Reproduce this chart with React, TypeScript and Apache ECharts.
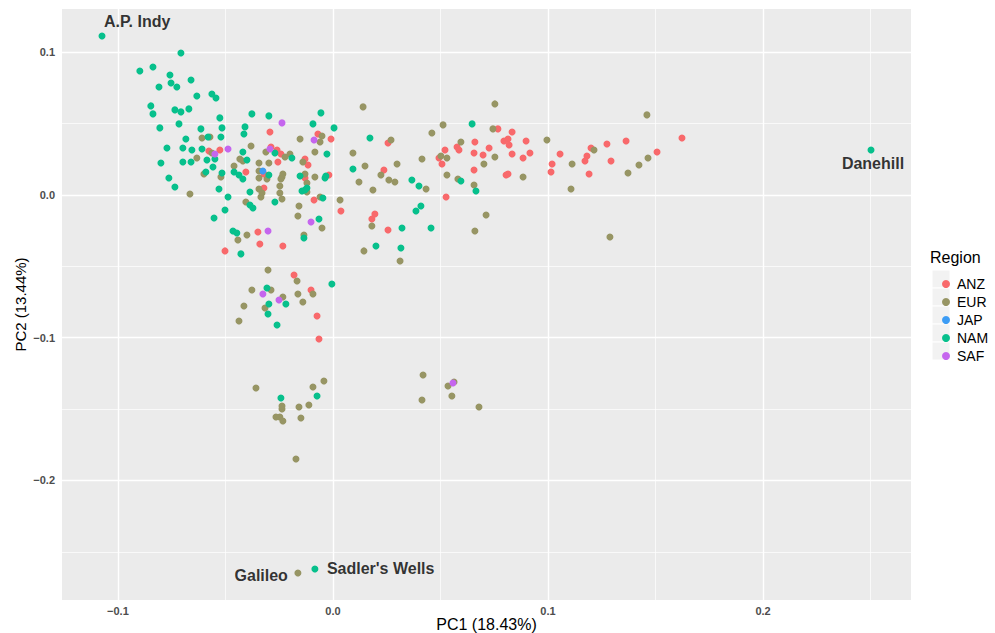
import React, { useEffect, useRef } from "react";
import * as echarts from "echarts";

// ---------- data (PC1, PC2) ----------
const regions = ["ANZ", "EUR", "JAP", "NAM", "SAF"];

const ANZ: [number, number][] = [
  [-0.0577, 0.0308], [-0.0526, 0.0315], [-0.0405, 0.0161], [-0.0293, 0.0441], [-0.007, 0.0427],
  [-0.0009, 0.0392], [-0.0288, 0.0336], [-0.026, 0.0315], [-0.0242, 0.0287], [-0.0256, 0.0231],
  [-0.013, 0.0252], [-0.0116, 0.021], [-0.0321, 0.0147], [-0.013, 0.0119], [-0.0019, 0.014],
  [-0.0321, 0.0049], [-0.0088, -0.0035], [0.0037, -0.0112], [-0.0349, -0.0259], [-0.034, -0.0343],
  [-0.0233, -0.0357], [-0.0502, -0.0392], [0.0256, 0.0364], [0.0767, 0.0463], [0.0833, 0.0441],
  [0.0898, 0.0378], [0.0795, 0.0378], [0.0814, 0.0392], [0.0819, 0.035], [0.066, 0.0371],
  [0.0577, 0.0336], [0.0586, 0.0315], [0.0521, 0.0315], [0.0726, 0.0329], [0.0656, 0.0294],
  [0.0698, 0.028], [0.0833, 0.0287], [0.0916, 0.0294], [0.0884, 0.0259], [0.1056, 0.0287],
  [0.1019, 0.0217], [0.1014, 0.0161], [0.0493, 0.0259], [0.0507, 0.0217], [0.0237, 0.0175],
  [0.0656, 0.0175], [0.0805, 0.014], [0.0814, 0.0147], [0.0526, -0.0014], [0.0195, -0.0133],
  [0.0181, -0.0168], [0.0256, -0.0245], [0.1623, 0.0399], [0.1363, 0.0378], [0.1274, 0.0357],
  [0.12, 0.0329], [0.1181, 0.0273], [0.1172, 0.0238], [0.1293, 0.0238], [0.1507, 0.0301],
  [0.1191, 0.0147], [-0.0181, -0.0561], [-0.0102, -0.0666], [-0.0074, -0.0848], [-0.0065, -0.1009],
];

const EUR: [number, number][] = [
  [-0.0609, 0.0399], [-0.0572, 0.0406], [-0.0381, 0.0343], [-0.0563, 0.0294], [-0.0633, 0.0259],
  [-0.0433, 0.0252], [-0.0344, 0.0224], [-0.046, 0.0203], [-0.06, 0.0147], [-0.0521, 0.0126],
  [-0.0344, 0.0168], [-0.0344, 0.0042], [-0.0665, 0.0007], [-0.0405, -0.0049], [0.014, 0.0617],
  [-0.0051, 0.0413], [-0.0153, 0.0392], [-0.006, 0.0371], [-0.0312, 0.0301], [-0.02, 0.0287],
  [-0.0084, 0.0301], [0.0093, 0.0294], [0.0149, 0.0203], [0.0121, 0.0091], [-0.0419, 0.0238],
  [-0.0298, 0.0224], [-0.0223, 0.0266], [-0.014, 0.0231], [-0.0344, 0.0119], [-0.0307, 0.0112],
  [-0.0233, 0.0147], [-0.0237, 0.0126], [-0.0242, 0.0112], [-0.013, 0.0147], [-0.0084, 0.0126],
  [-0.0121, 0.0084], [-0.0247, 0.0063], [-0.0247, 0.0014], [-0.033, 0.0014], [-0.0335, -0.0014],
  [-0.0237, -0.0028], [-0.0121, 0.0021], [-0.0158, -0.0077], [-0.0163, -0.0147], [-0.006, -0.0014],
  [0.0033, -0.0035], [-0.0051, -0.0231], [-0.04, -0.028], [-0.0442, -0.0315], [-0.0135, -0.028],
  [0.0144, -0.0392], [-0.0302, -0.0526], [0.0753, 0.0638], [0.0512, 0.0491], [0.046, 0.0434],
  [0.027, 0.0385], [0.0744, 0.0463], [0.0995, 0.0385], [0.0595, 0.0371], [0.0753, 0.0266],
  [0.0502, 0.0273], [0.053, 0.0259], [0.0414, 0.0252], [0.0298, 0.0217], [0.0702, 0.0217],
  [0.0223, 0.014], [0.053, 0.014], [0.0884, 0.0126], [0.026, 0.0105], [0.0288, 0.0091],
  [0.0581, 0.0112], [0.0656, 0.007], [0.0433, 0.0042], [0.0186, 0.0035], [0.0712, -0.014],
  [0.0181, -0.0217], [0.066, -0.0252], [0.0312, -0.0463], [0.146, 0.0561], [0.1214, 0.0315],
  [0.1465, 0.0259], [0.1423, 0.021], [0.1112, 0.0217], [0.1372, 0.0154], [0.1107, 0.0042],
  [0.1288, -0.0294], [-0.0167, -0.0603], [-0.0377, -0.0666], [-0.0288, -0.0666], [-0.0093, -0.0694],
  [-0.0233, -0.0715], [-0.0163, -0.0694], [-0.014, -0.075], [-0.0414, -0.0778], [-0.0316, -0.0792],
  [-0.0437, -0.0883], [-0.0042, -0.1303], [-0.0093, -0.1345], [-0.0358, -0.1352], [-0.0112, -0.1472],
  [-0.0158, -0.1486], [-0.0237, -0.1479], [-0.0237, -0.15], [-0.0265, -0.1556], [-0.0247, -0.1556],
  [-0.0233, -0.1584], [-0.0149, -0.1563], [-0.0172, -0.185], [0.0419, -0.1261], [0.0414, -0.1437],
  [0.0563, -0.131], [0.0535, -0.1338], [0.0553, -0.1409], [0.0679, -0.1486], [-0.0163, -0.2649],
];

const JAP: [number, number][] = [
  [-0.0326, 0.0168],
];

const NAM: [number, number][] = [
  [-0.1074, 0.1114], [-0.0707, 0.0995], [-0.0898, 0.0869], [-0.0837, 0.0897], [-0.0758, 0.0841],
  [-0.066, 0.0806], [-0.0753, 0.0785], [-0.0809, 0.0757], [-0.0726, 0.0757], [-0.0633, 0.0694],
  [-0.0563, 0.0708], [-0.0544, 0.068], [-0.0847, 0.0624], [-0.0837, 0.0568], [-0.0735, 0.0596],
  [-0.0707, 0.0582], [-0.067, 0.0603], [-0.0526, 0.054], [-0.0377, 0.0568], [-0.0805, 0.047],
  [-0.0716, 0.0498], [-0.0614, 0.0463], [-0.0516, 0.047], [-0.0409, 0.0477], [-0.0414, 0.0427],
  [-0.0684, 0.0392], [-0.0581, 0.0406], [-0.0521, 0.0406], [-0.0772, 0.0329], [-0.0698, 0.0329],
  [-0.0656, 0.0315], [-0.0609, 0.0322], [-0.0419, 0.0301], [-0.0586, 0.0245], [-0.0549, 0.0252],
  [-0.04, 0.0245], [-0.08, 0.0224], [-0.0698, 0.0231], [-0.066, 0.0231], [-0.0558, 0.0196],
  [-0.0591, 0.0161], [-0.0516, 0.0154], [-0.046, 0.0161], [-0.0437, 0.014], [-0.0419, 0.0112],
  [-0.0763, 0.0119], [-0.0735, 0.0056], [-0.053, 0.0042], [-0.0386, 0.0021], [-0.0488, -0.0014],
  [-0.0386, -0.007], [-0.0502, -0.0105], [-0.0372, -0.0091], [-0.0298, 0.0554], [-0.0056, 0.0575],
  [-0.0093, 0.0498], [0.0005, 0.047], [0.0172, 0.0399], [-0.027, 0.0294], [-0.0191, 0.0259],
  [-0.0028, 0.0287], [0.0093, 0.0182], [-0.0298, 0.014], [-0.0153, 0.0133], [-0.0037, 0.0119],
  [-0.0033, 0.0133], [-0.027, -0.0049], [-0.0144, 0.0028], [-0.013, 0.0035], [-0.0121, 0.0049],
  [-0.0047, -0.0021], [-0.0553, -0.0161], [-0.0065, -0.0168], [-0.0465, -0.0252], [-0.0447, -0.0266],
  [-0.0135, -0.0301], [-0.0428, -0.0413], [0.0647, 0.0498], [0.0367, 0.0105], [0.0595, 0.0098],
  [0.04, 0.0063], [0.0665, 0.0028], [0.0409, -0.0077], [0.0386, -0.0112], [0.0321, -0.0231],
  [0.0456, -0.0231], [0.02, -0.0357], [0.0316, -0.0371], [-0.0005, -0.0624], [-0.0307, -0.0652],
  [-0.0298, -0.0764], [-0.0219, -0.0764], [-0.0302, -0.0834], [-0.026, -0.0911], [-0.0074, -0.1409],
  [-0.0242, -0.1423], [0.2502, 0.0315], [-0.0084, -0.2621],
];

const SAF: [number, number][] = [
  [-0.0488, 0.0322], [-0.0549, 0.0287], [-0.0237, 0.0505], [-0.0088, 0.0385], [-0.0293, 0.0322],
  [-0.0102, -0.0189], [-0.0302, -0.0252], [-0.0326, -0.0694], [-0.0251, -0.0736], [0.0558, -0.1317],
];

const regionData = [ANZ, EUR, JAP, NAM, SAF];

// labelled horses
const labelNames = ["A.P. Indy", "Danehill", "Galileo", "Sadler's Wells"];
const labelPC1 = [-0.1074, 0.2502, -0.0163, -0.0084];
const labelPC2 = [0.1114, 0.0315, -0.2649, -0.2621];

// axes
const xTicks = [-0.1, 0.0, 0.1, 0.2];
const yTicks = [-0.2, -0.1, 0.0, 0.1];
const xMinor = [-0.05, 0.05, 0.15, 0.25];
const yMinor = [-0.25, -0.15, -0.05, 0.05];
const xRange = [-0.126, 0.2688];
const yRange = [-0.2838, 0.1303];

// ---------- styles ----------
const colors = ["#F8696B", "#979564", "#3C9CF5", "#07C08C", "#C566EE"];
const labelStyle: { align: string; offset: [number, number] }[] = [
  { align: "left", offset: [2, -14] },
  { align: "center", offset: [2, 13] },
  { align: "right", offset: [-10, 2] },
  { align: "left", offset: [12, -1] },
];
const FONT = "'Liberation Sans', Arial, Helvetica, sans-serif";

const fmt = (v: number) =>
  Math.abs(v) < 1e-9 ? "0.0" : (v < 0 ? "\u2212" : "") + Math.abs(v).toFixed(1);

export default function App() {
  const ref = useRef<HTMLDivElement>(null);

  useEffect(() => {
    if (!ref.current) return;
    const chart = echarts.init(ref.current, null, { renderer: "svg" });

    const gridLines = [
      ...xTicks.map((v) => ({ xAxis: v, lineStyle: { width: 1.4 } })),
      ...xMinor.map((v) => ({ xAxis: v, lineStyle: { width: 0.7 } })),
      ...yTicks.map((v) => ({ yAxis: v, lineStyle: { width: 1.4 } })),
      ...yMinor.map((v) => ({ yAxis: v, lineStyle: { width: 0.7 } })),
    ];

    const legendTop = 270;
    const keyH = 18;

    const option: any = {
      animation: false,
      color: colors,
      textStyle: { fontFamily: FONT },
      grid: {
        left: 62,
        right: 84,
        top: 9,
        bottom: 33,
        containLabel: false,
        outerBoundsMode: "none",
        show: true,
        backgroundColor: "#EBEBEB",
        borderWidth: 0,
      },
      xAxis: {
        type: "value",
        min: xRange[0],
        max: xRange[1],
        name: "PC1 (18.43%)",
        nameLocation: "middle",
        nameGap: 16,
        nameMoveOverlap: false,
        nameTextStyle: { fontSize: 16, color: "#000", fontFamily: FONT },
        axisLine: { show: false },
        axisTick: { show: true, length: 4, customValues: xTicks, lineStyle: { color: "#333" } },
        axisLabel: {
          customValues: xTicks,
          formatter: fmt,
          margin: 5,
          fontSize: 11,
          fontWeight: "bold",
          color: "#4D4D4D",
          fontFamily: FONT,
        },
        splitLine: { show: false },
      },
      yAxis: {
        type: "value",
        min: yRange[0],
        max: yRange[1],
        name: "PC2 (13.44%)",
        nameLocation: "middle",
        nameGap: 34,
        nameMoveOverlap: false,
        nameRotate: 90,
        nameTextStyle: { fontSize: 15, color: "#000", fontFamily: FONT },
        axisLine: { show: false },
        axisTick: { show: true, length: 4, customValues: yTicks, lineStyle: { color: "#333" } },
        axisLabel: {
          customValues: yTicks,
          formatter: fmt,
          margin: 7,
          fontSize: 11,
          fontWeight: "bold",
          color: "#4D4D4D",
          fontFamily: FONT,
        },
        splitLine: { show: false },
      },
      legend: {
        data: regions,
        orient: "vertical",
        left: 937,
        top: legendTop,
        icon: "circle",
        itemWidth: 8,
        itemHeight: 8,
        itemGap: 0,
        textStyle: {
          fontSize: 14,
          lineHeight: keyH,
          color: "#000",
          fontFamily: FONT,
          padding: [0, 0, 0, 2],
        },
      },
      graphic: [
        {
          type: "text",
          left: 930,
          top: 249,
          style: { text: "Region", fontSize: 16, fill: "#000", fontFamily: FONT },
        },
        ...regions.map((_, i) => ({
          type: "rect",
          shape: { x: 932, y: legendTop + i * keyH, width: 18, height: keyH },
          style: { fill: "#F2F2F2", stroke: "#FFFFFF", lineWidth: 1 },
          z: -1,
        })),
      ],
      series: [
        {
          type: "scatter",
          data: [],
          silent: true,
          markLine: {
            silent: true,
            z: 1,
            symbol: ["none", "none"],
            label: { show: false },
            lineStyle: { color: "#FFFFFF", type: "solid" },
            data: gridLines,
          },
        },
        ...regions.map((r, i) => ({
          name: r,
          type: "scatter",
          z: 3,
          symbolSize: 7,
          itemStyle: { color: colors[i], opacity: 1 },
          data: regionData[i],
        })),
        {
          type: "scatter",
          z: 4,
          symbolSize: 0,
          silent: true,
          data: labelNames.map((n, i) => ({
            value: [labelPC1[i], labelPC2[i]],
            label: {
              show: true,
              formatter: n,
              position: "inside",
              align: labelStyle[i].align,
              verticalAlign: "middle",
              offset: labelStyle[i].offset,
              fontSize: 16,
              fontWeight: "bold",
              color: "#000",
              fontFamily: FONT,
            },
          })),
        },
      ],
    };

    chart.setOption(option);
    return () => chart.dispose();
  }, []);

  return (
    <div
      ref={ref}
      style={{ position: "fixed", left: 0, top: 0, width: 995, height: 633, background: "#fff" }}
    />
  );
}
